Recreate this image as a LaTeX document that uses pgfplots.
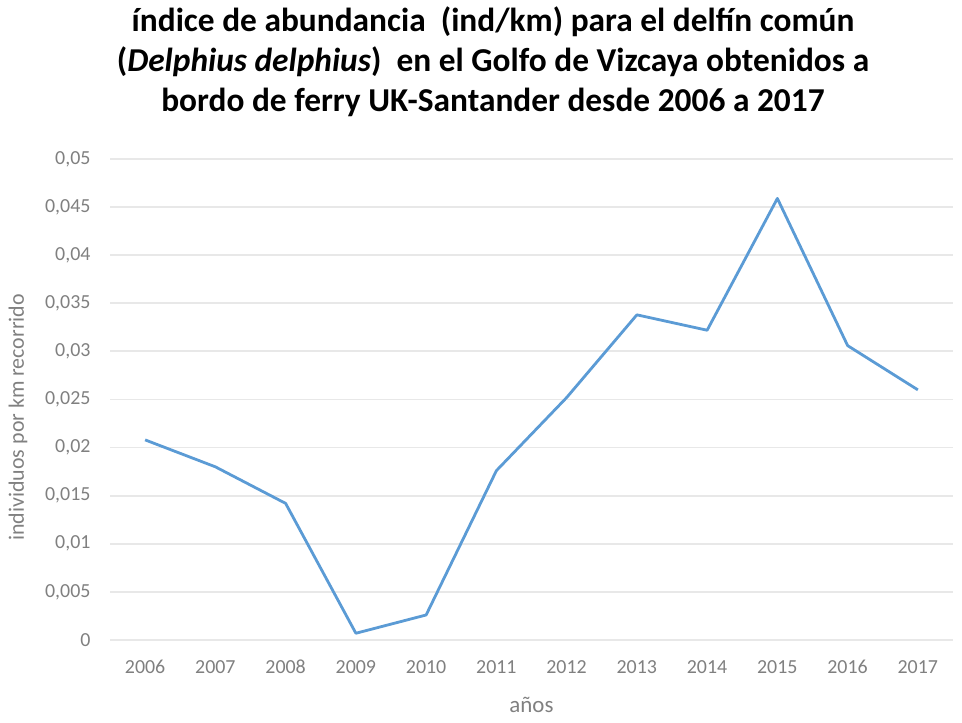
\documentclass[border=0pt]{standalone}
\usepackage{pgfplots}
\pgfplotsset{compat=1.18}
\usepackage{fontspec}
\setmainfont{Carlito}
\definecolor{serieblue}{HTML}{5B9BD5}
\definecolor{gridgray}{HTML}{E8E8E8}
\definecolor{tickgray}{HTML}{808080}
\begin{document}
\begin{tikzpicture}[x=1bp,y=1bp]
\path[use as bounding box] (0,0) rectangle (962,723);
\begin{axis}[
  at={(110bp,83bp)}, anchor=south west,
  scale only axis, width=843bp, height=481bp,
  xmin=2005.5, xmax=2017.5, ymin=0, ymax=0.05,
  xtick={2006,...,2017},
  ytick={0,0.005,...,0.0501},
  axis line style={draw=none},
  major tick length=0pt,
  ymajorgrids, xmajorgrids=false, grid style={draw=gridgray, line width=1.8bp},
  /pgf/number format/assume math mode=true,
  xticklabel style={/pgf/number format/1000 sep={}, font=\fontsize{20}{22}\selectfont, text=tickgray, anchor=north, text height=14bp, text depth=2bp, yshift=-16bp},
  yticklabel style={/pgf/number format/.cd, use comma, fixed, precision=3, /tikz/.cd, font=\fontsize{20}{22}\selectfont, text=tickgray, xshift=-16bp},
  scaled y ticks=false,
  xlabel={años}, ylabel={individuos por km recorrido},
  xlabel style={font=\fontsize{23}{25}\selectfont, text=tickgray, at={(axis description cs:0.5,-0.135)}, anchor=center},
  ylabel style={font=\fontsize{22}{24}\selectfont, text=tickgray, at={(axis description cs:-0.109,0.463)}, anchor=center},
  clip=false,
]
\addplot[serieblue, line width=2.8bp, line join=round] coordinates {
(2006,0.0208) (2007,0.0180) (2008,0.0142) (2009,0.0007) (2010,0.0026) (2011,0.0176)
(2012,0.0252) (2013,0.0338) (2014,0.0322) (2015,0.0459) (2016,0.0306) (2017,0.0260)};
\end{axis}
\node[align=center, font=\fontsize{33.5}{40}\selectfont\bfseries] at (493,661)
{índice de abundancia\ \ (ind/km) para el delfín común\\
(\textit{Delphius delphius})\ \ en el Golfo de Vizcaya obtenidos a\\
bordo de ferry UK-Santander desde 2006 a 2017};
\end{tikzpicture}
\end{document}
